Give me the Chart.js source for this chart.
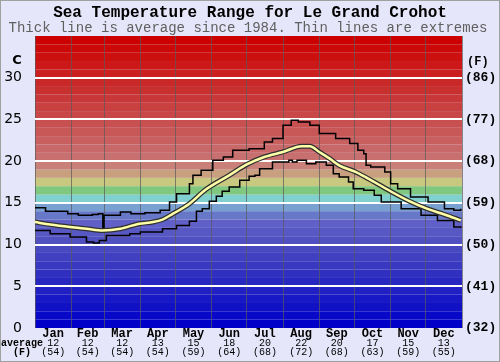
<!DOCTYPE html>
<html>
<head>
<meta charset="utf-8">
<script src="https://cdn.jsdelivr.net/npm/chart.js@4/dist/chart.umd.min.js"></script>
<style>
  body { margin: 0; background: #e6e6fa; }
  canvas { display: block; }
</style>
</head>
<body>
<canvas id="seaChart" width="500" height="362"></canvas>
<script>
// --- Data ---
const months = ['Jan', 'Feb', 'Mar', 'Apr', 'May', 'Jun', 'Jul', 'Aug', 'Sep', 'Oct', 'Nov', 'Dec'];
const monthStarts = [0, 31, 59, 90, 120, 151, 181, 212, 243, 273, 304, 334, 365];
const monthAvgC = [12, 12, 12, 13, 15, 18, 20, 22, 20, 17, 15, 13];
const monthAvgF = [54, 54, 54, 54, 59, 64, 68, 72, 68, 63, 59, 55];

const tickC = [0, 5, 10, 15, 20, 25, 30];
const tickF = [32, 41, 50, 59, 68, 77, 86];

// average since 1984 (day of year, deg C)
const avgDays = [0, 13, 30, 44, 58, 73, 89, 101, 109, 118, 132, 146, 166, 181, 196, 212, 228, 235, 243, 252, 260, 274, 290, 305, 320, 335, 350, 364];
const avgTemps = [12.7, 12.4, 12.1, 11.9, 11.7, 11.9, 12.5, 12.7, 13.0, 13.7, 14.9, 16.6, 18.3, 19.6, 20.5, 21.1, 21.8, 21.8, 21.1, 20.3, 19.5, 18.7, 17.5, 16.3, 15.2, 14.3, 13.6, 12.9];

// highest on record
const maxDays = [0, 9, 28, 37, 49, 54, 58, 59, 62, 73, 82, 94, 107, 115, 121, 132, 135, 142, 152, 161, 169, 183, 196, 203, 212, 219, 225, 235, 243, 257, 269, 276, 281, 283, 287, 299, 304, 310, 321, 336, 350, 358, 364];
const maxTemps = [14.4, 14.0, 13.7, 13.5, 13.6, 13.7, 11.6, 13.5, 13.5, 13.9, 13.7, 13.8, 14.1, 15.1, 16.1, 17.3, 18.3, 18.9, 20.1, 20.5, 21.3, 21.5, 22.3, 22.7, 24.3, 24.9, 24.7, 24.3, 23.3, 22.7, 22.1, 21.3, 20.9, 19.5, 19.3, 18.7, 17.3, 16.7, 15.7, 15.1, 14.3, 14.1, 14.3];

// lowest on record
const minDays = [0, 13, 30, 44, 50, 55, 61, 81, 90, 109, 121, 132, 138, 143, 149, 155, 160, 166, 175, 183, 188, 192, 203, 217, 220, 224, 232, 240, 249, 255, 260, 268, 272, 281, 290, 296, 313, 330, 344, 358, 364];
const minTemps = [11.7, 11.3, 10.9, 10.3, 10.2, 10.5, 11.1, 11.3, 11.5, 11.9, 12.3, 12.8, 14.0, 14.3, 15.2, 15.8, 16.4, 16.9, 17.7, 18.2, 18.3, 19.1, 19.9, 20.1, 19.9, 20.1, 19.7, 19.9, 19.5, 18.5, 18.1, 17.5, 16.7, 16.5, 15.9, 15.1, 14.3, 13.5, 12.9, 12.1, 12.0];

// colour of each 1 degree band, from 0-1 C up to 34-35 C
const bandColors = [
    '#0000c8', '#0808c8', '#1010c4', '#1818c4', '#2020c4',
    '#2828c0', '#3030c0', '#3838c0', '#4040c0', '#4848c0',
    '#5050c0', '#5858c4', '#6060c8', '#6878c8', '#78a0d0',
    '#80d0d0', '#80c880', '#c8c880', '#c8a080', '#c88078',
    '#c87070', '#c86868', '#c86060', '#c85858', '#c85050',
    '#c84848', '#c84040', '#c83838', '#c83030', '#c82828',
    '#cc2020', '#cc1818', '#cc1010', '#cc0808', '#cc0000'
];

function toPoints(days, temps) {
    return days.map((d, i) => ({ x: d, y: temps[i] }));
}

// background colour bands behind the plot
const bandsPlugin = {
    id: 'bands',
    beforeDraw(chart) {
        const ctx = chart.ctx;
        const area = chart.chartArea;
        const y = chart.scales.y;
        ctx.save();
        ctx.fillStyle = '#e6e6fa';
        ctx.fillRect(0, 0, chart.width, chart.height);
        bandColors.forEach((c, i) => {
            const top = y.getPixelForValue(i + 1);
            const bot = y.getPixelForValue(i);
            ctx.fillStyle = c;
            ctx.fillRect(area.left, top, area.right - area.left, bot - top);
        });
        ctx.strokeStyle = '#a0a0a0';
        ctx.lineWidth = 1;
        ctx.strokeRect(0.5, 0.5, chart.width - 1, chart.height - 1);
        ctx.restore();
    }
};

// titles and the month / average labels
const textPlugin = {
    id: 'texts',
    afterDraw(chart) {
        const ctx = chart.ctx;
        const x = chart.scales.x;
        ctx.save();
        ctx.textBaseline = 'middle';
        ctx.textAlign = 'center';
        ctx.fillStyle = '#000';
        ctx.font = 'bold 16px "Liberation Mono"';
        ctx.fillText('Sea Temperature Range for Le Grand Crohot', 250, 13);
        ctx.fillStyle = '#606060';
        ctx.font = '14px "Liberation Mono"';
        ctx.fillText('Thick line is average since 1984. Thin lines are extremes', 248, 28);

        ctx.fillStyle = '#000';
        ctx.font = 'bold 13px "DejaVu Sans"';
        ctx.fillText('C', 17, 61);
        ctx.font = 'bold 12px "Liberation Mono"';
        ctx.textAlign = 'left';
        ctx.fillText('(F)', 467, 62);

        ctx.textAlign = 'center';
        months.forEach((m, i) => {
            const cx = (x.getPixelForValue(monthStarts[i]) + x.getPixelForValue(monthStarts[i + 1])) / 2;
            ctx.font = 'bold 12px "Liberation Mono"';
            ctx.fillText(m, cx, 334);
            ctx.font = '10px "Liberation Mono"';
            ctx.fillText(String(monthAvgC[i]), cx, 343);
            ctx.fillText('(' + monthAvgF[i] + ')', cx, 352);
        });
        ctx.font = 'bold 10px "Liberation Mono"';
        ctx.fillText('average', 22, 343);
        ctx.fillText('(F)', 22, 352);
        ctx.restore();
    }
};

const ctx = document.getElementById('seaChart').getContext('2d');
new Chart(ctx, {
    type: 'line',
    data: {
        datasets: [
            {
                label: 'Average',
                data: toPoints(avgDays, avgTemps),
                borderColor: '#ffffa8',
                borderWidth: 2.5,
                tension: 0.3,
                cubicInterpolationMode: 'monotone',
                pointRadius: 0,
                order: 0
            },
            {
                label: 'Average outline',
                data: toPoints(avgDays, avgTemps),
                borderColor: '#303030',
                borderWidth: 5,
                tension: 0.3,
                cubicInterpolationMode: 'monotone',
                pointRadius: 0,
                order: 1
            },
            {
                label: 'Highest',
                data: toPoints(maxDays, maxTemps),
                borderColor: '#000',
                borderWidth: 1.5,
                stepped: 'before',
                pointRadius: 0,
                order: 2
            },
            {
                label: 'Lowest',
                data: toPoints(minDays, minTemps),
                borderColor: '#000',
                borderWidth: 1.5,
                stepped: 'before',
                pointRadius: 0,
                order: 3
            }
        ]
    },
    options: {
        responsive: false,
        animation: false,
        layout: { padding: { top: 36, left: 0, right: 0, bottom: 0 } },
        plugins: {
            legend: { display: false },
            tooltip: { enabled: false }
        },
        scales: {
            x: {
                type: 'linear',
                min: 0,
                max: 365,
                afterBuildTicks: s => { s.ticks = monthStarts.map(v => ({ value: v })); },
                afterFit: s => { s.height = 34; },
                ticks: { display: false },
                grid: { color: 'rgba(90,90,90,0.7)', lineWidth: 1, drawTicks: false },
                border: { display: false }
            },
            y: {
                min: 0,
                max: 35,
                position: 'left',
                afterBuildTicks: s => { s.ticks = tickC.map(v => ({ value: v })); },
                afterFit: s => { s.width = 35; },
                ticks: {
                    color: '#000',
                    padding: 13,
                    font: { family: 'DejaVu Sans', size: 14 }
                },
                grid: {
                    color: c => (c.tick && c.tick.value > 0 ? '#ffffff' : 'rgba(0,0,0,0)'),
                    lineWidth: 2,
                    drawTicks: false
                },
                border: { display: false }
            },
            y2: {
                min: 0,
                max: 35,
                position: 'right',
                afterBuildTicks: s => { s.ticks = tickC.map(v => ({ value: v })); },
                afterFit: s => { s.width = 38; },
                ticks: {
                    color: '#000',
                    padding: 3,
                    font: { family: 'Liberation Mono', size: 13, weight: 'bold' },
                    callback: (v, i) => '(' + tickF[i] + ')'
                },
                grid: { drawOnChartArea: false, drawTicks: false },
                border: { display: false }
            }
        }
    },
    plugins: [bandsPlugin, textPlugin]
});
</script>
</body>
</html>
